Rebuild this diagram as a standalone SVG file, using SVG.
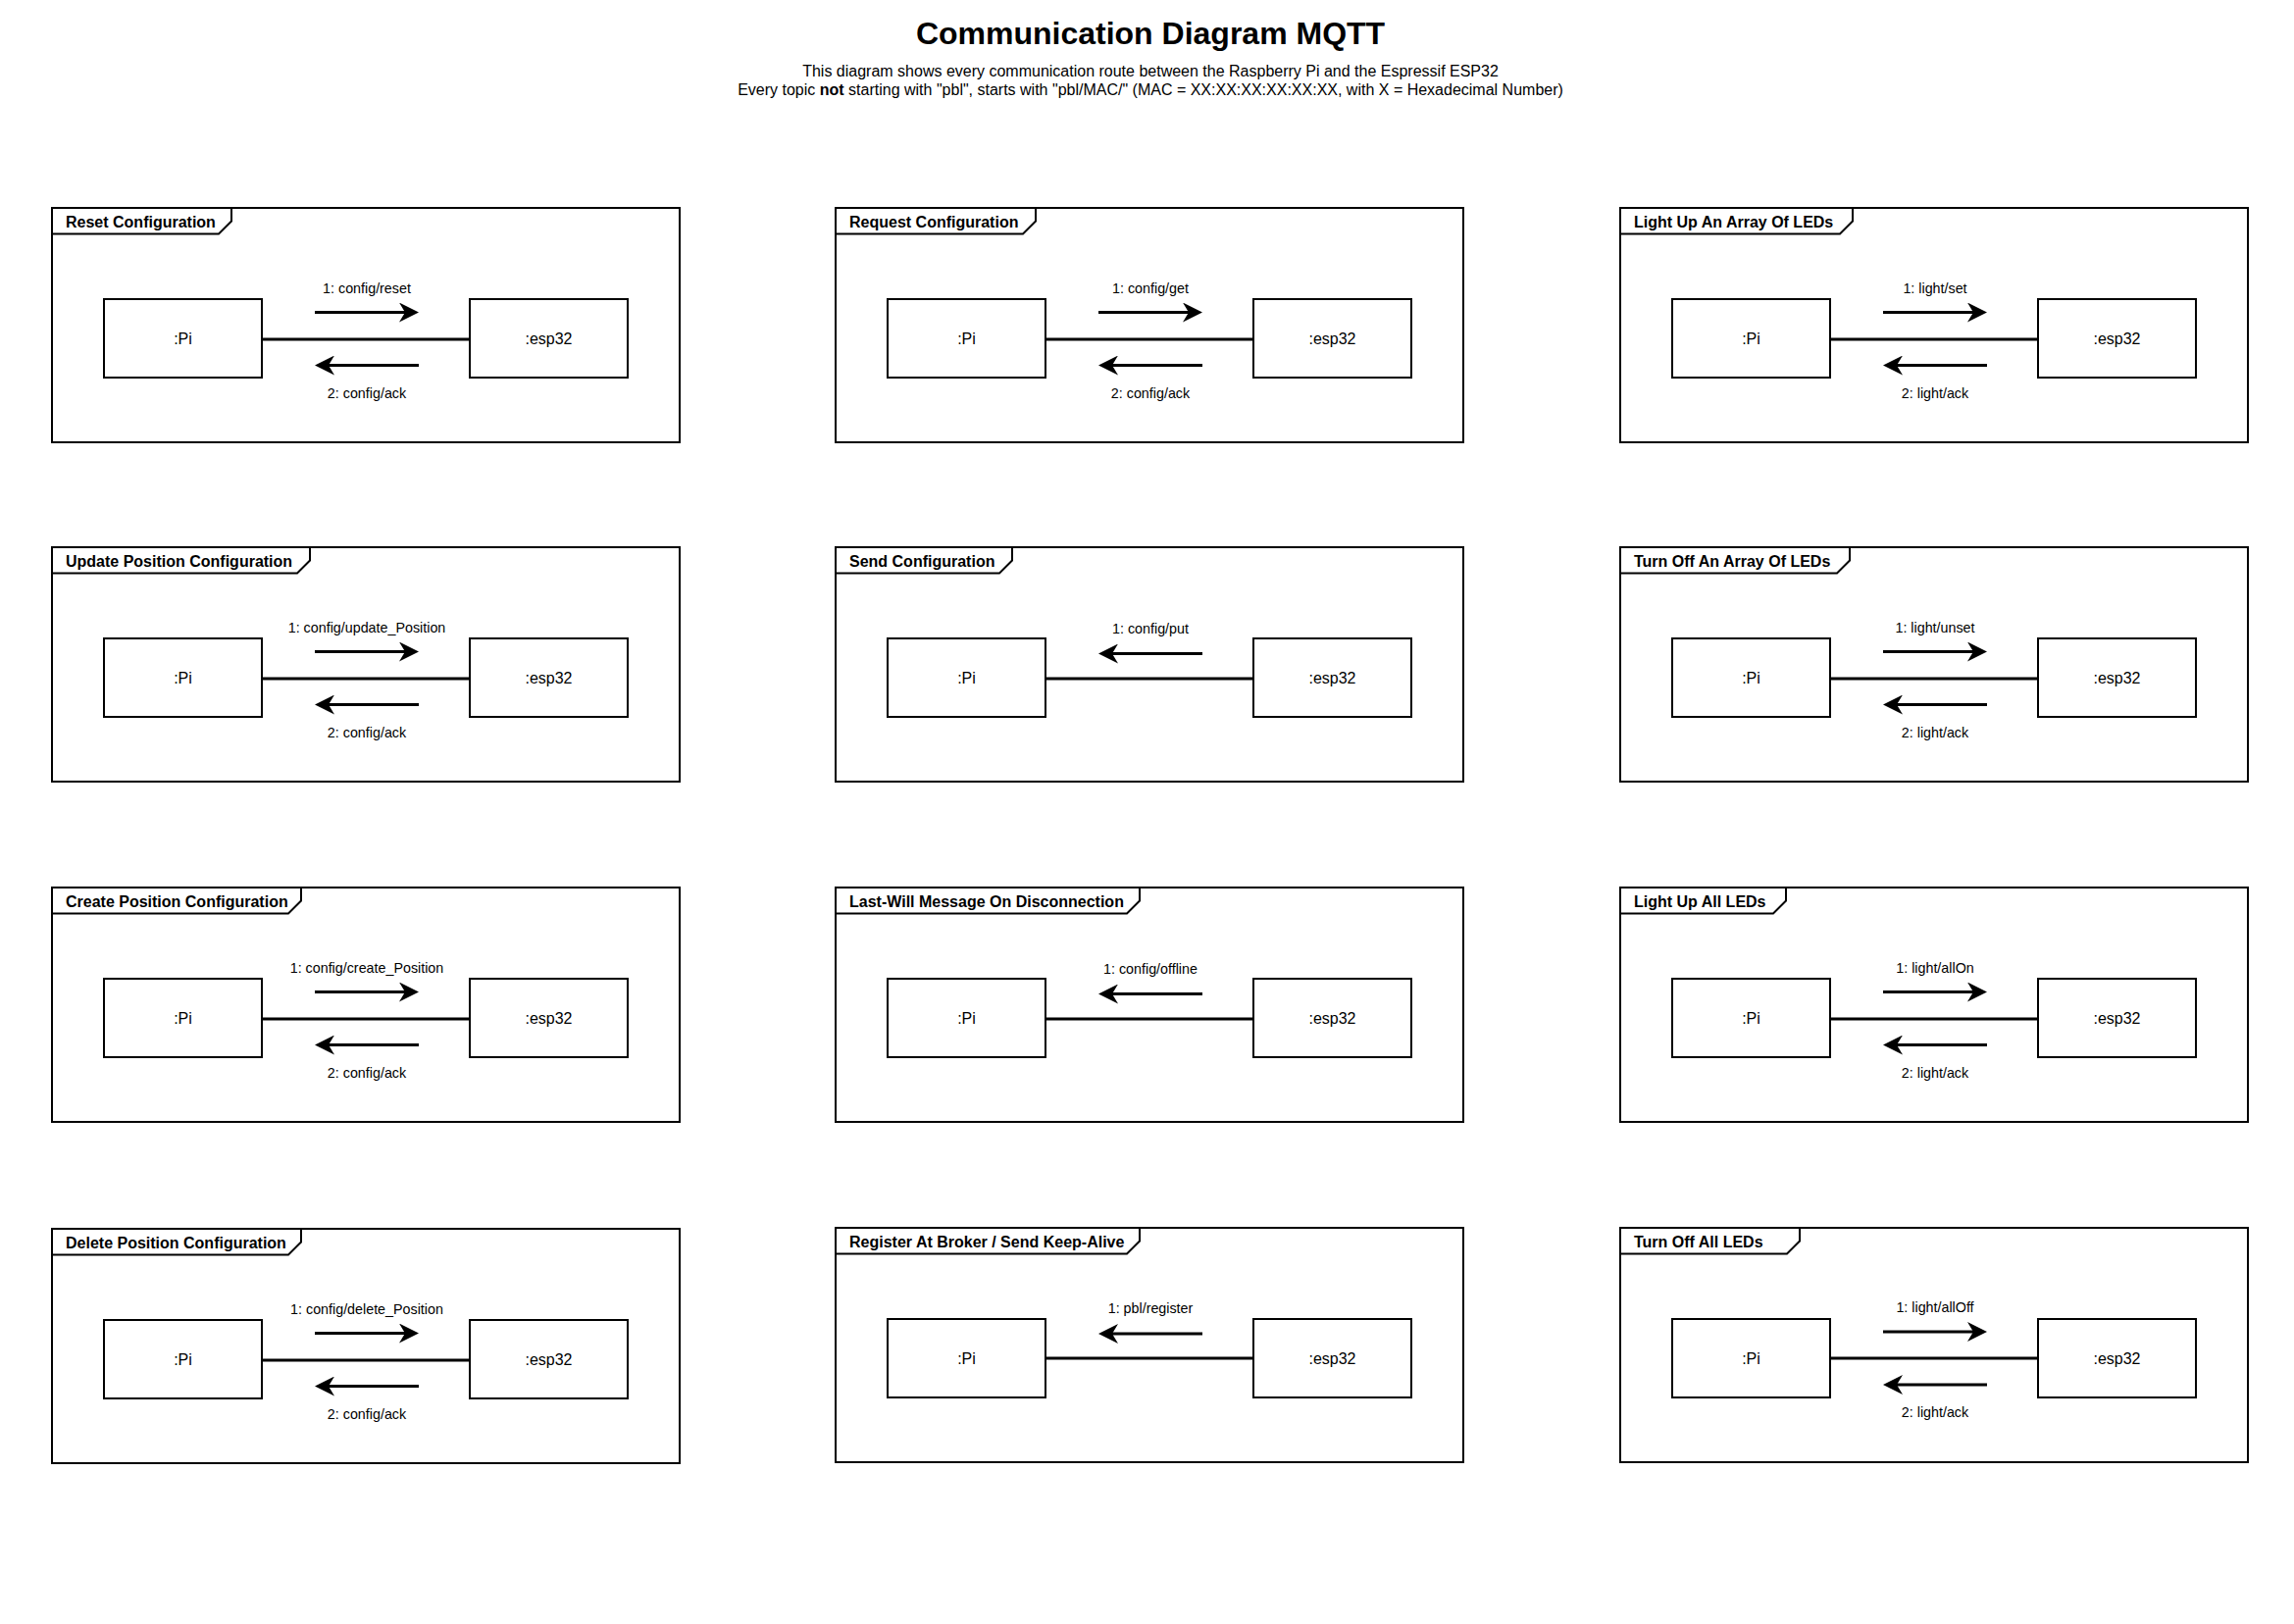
<svg xmlns="http://www.w3.org/2000/svg" width="2339" height="1656" viewBox="0 0 2339 1656">
<style>
text{font-family:"Liberation Sans",Arial,sans-serif;fill:#000}
.title{font-size:32px;font-weight:bold;text-anchor:middle}
.sub{font-size:16px;text-anchor:middle}
.flabel{font-size:16px;font-weight:bold}
.obj{font-size:16px;text-anchor:middle}
.msg{font-size:14.3px;text-anchor:middle}
.frame{fill:none;stroke:#000;stroke-width:2}
.tab{fill:#fff;stroke:#000;stroke-width:2}
.box{fill:#fff;stroke:#000;stroke-width:2}
.link{stroke:#000;stroke-width:3;fill:none}
.arrow{stroke:#000;stroke-width:3;fill:none;marker-end:url(#ah)}
</style>
<defs>
<marker id="ah" viewBox="0 0 20 20" markerWidth="20" markerHeight="20" refX="6" refY="10" orient="auto" markerUnits="userSpaceOnUse">
<path d="M0,0 L20,10 L0,20 L6,10 Z" fill="#000"/>
</marker>
</defs>
<rect width="2339" height="1656" fill="#fff"/>
<g id="header">
<text class="title" x="1173" y="45">Communication Diagram MQTT</text>
<text class="sub" x="1173" y="78">This diagram shows every communication route between the Raspberry Pi and the Espressif ESP32</text>
<text class="sub" x="1173" y="97">Every topic <tspan font-weight="bold">not</tspan> starting with "pbl", starts with "pbl/MAC/" (MAC = XX:XX:XX:XX:XX:XX, with X = Hexadecimal Number)</text>
</g>

<!-- Column A -->
<g id="frame-reset">
<rect class="frame" x="53" y="212" width="640" height="239"/>
<path class="tab" d="M53,238.5 H223 L236,225.5 V212 H53 Z"/>
<text class="flabel" x="67" y="232">Reset Configuration</text>
</g>
<g id="reset-pi"><rect class="box" x="106" y="305" width="161" height="80"/><text class="obj" x="186.5" y="351">:Pi</text></g>
<g id="reset-esp"><rect class="box" x="479" y="305" width="161" height="80"/><text class="obj" x="559.5" y="351">:esp32</text></g>

<g id="frame-update">
<rect class="frame" x="53" y="558" width="640" height="239"/>
<path class="tab" d="M53,584.5 H303 L316,571.5 V558 H53 Z"/>
<text class="flabel" x="67" y="578">Update Position Configuration</text>
</g>
<g id="update-pi"><rect class="box" x="106" y="651" width="161" height="80"/><text class="obj" x="186.5" y="697">:Pi</text></g>
<g id="update-esp"><rect class="box" x="479" y="651" width="161" height="80"/><text class="obj" x="559.5" y="697">:esp32</text></g>

<g id="frame-create">
<rect class="frame" x="53" y="905" width="640" height="239"/>
<path class="tab" d="M53,931.5 H294 L307,918.5 V905 H53 Z"/>
<text class="flabel" x="67" y="925">Create Position Configuration</text>
</g>
<g id="create-pi"><rect class="box" x="106" y="998" width="161" height="80"/><text class="obj" x="186.5" y="1044">:Pi</text></g>
<g id="create-esp"><rect class="box" x="479" y="998" width="161" height="80"/><text class="obj" x="559.5" y="1044">:esp32</text></g>

<g id="frame-delete">
<rect class="frame" x="53" y="1253" width="640" height="239"/>
<path class="tab" d="M53,1279.5 H294 L307,1266.5 V1253 H53 Z"/>
<text class="flabel" x="67" y="1273">Delete Position Configuration</text>
</g>
<g id="delete-pi"><rect class="box" x="106" y="1346" width="161" height="80"/><text class="obj" x="186.5" y="1392">:Pi</text></g>
<g id="delete-esp"><rect class="box" x="479" y="1346" width="161" height="80"/><text class="obj" x="559.5" y="1392">:esp32</text></g>

<!-- Column B -->
<g id="frame-request">
<rect class="frame" x="852" y="212" width="640" height="239"/>
<path class="tab" d="M852,238.5 H1043 L1056,225.5 V212 H852 Z"/>
<text class="flabel" x="866" y="232">Request Configuration</text>
</g>
<g id="request-pi"><rect class="box" x="905" y="305" width="161" height="80"/><text class="obj" x="985.5" y="351">:Pi</text></g>
<g id="request-esp"><rect class="box" x="1278" y="305" width="161" height="80"/><text class="obj" x="1358.5" y="351">:esp32</text></g>

<g id="frame-send">
<rect class="frame" x="852" y="558" width="640" height="239"/>
<path class="tab" d="M852,584.5 H1019 L1032,571.5 V558 H852 Z"/>
<text class="flabel" x="866" y="578">Send Configuration</text>
</g>
<g id="send-pi"><rect class="box" x="905" y="651" width="161" height="80"/><text class="obj" x="985.5" y="697">:Pi</text></g>
<g id="send-esp"><rect class="box" x="1278" y="651" width="161" height="80"/><text class="obj" x="1358.5" y="697">:esp32</text></g>

<g id="frame-lastwill">
<rect class="frame" x="852" y="905" width="640" height="239"/>
<path class="tab" d="M852,931.5 H1149 L1162,918.5 V905 H852 Z"/>
<text class="flabel" x="866" y="925">Last-Will Message On Disconnection</text>
</g>
<g id="lastwill-pi"><rect class="box" x="905" y="998" width="161" height="80"/><text class="obj" x="985.5" y="1044">:Pi</text></g>
<g id="lastwill-esp"><rect class="box" x="1278" y="998" width="161" height="80"/><text class="obj" x="1358.5" y="1044">:esp32</text></g>

<g id="frame-register">
<rect class="frame" x="852" y="1252" width="640" height="239"/>
<path class="tab" d="M852,1278.5 H1149 L1162,1265.5 V1252 H852 Z"/>
<text class="flabel" x="866" y="1272">Register At Broker / Send Keep-Alive</text>
</g>
<g id="register-pi"><rect class="box" x="905" y="1345" width="161" height="80"/><text class="obj" x="985.5" y="1391">:Pi</text></g>
<g id="register-esp"><rect class="box" x="1278" y="1345" width="161" height="80"/><text class="obj" x="1358.5" y="1391">:esp32</text></g>

<!-- Column C -->
<g id="frame-lightarray">
<rect class="frame" x="1652" y="212" width="640" height="239"/>
<path class="tab" d="M1652,238.5 H1876 L1889,225.5 V212 H1652 Z"/>
<text class="flabel" x="1666" y="232">Light Up An Array Of LEDs</text>
</g>
<g id="lightarray-pi"><rect class="box" x="1705" y="305" width="161" height="80"/><text class="obj" x="1785.5" y="351">:Pi</text></g>
<g id="lightarray-esp"><rect class="box" x="2078" y="305" width="161" height="80"/><text class="obj" x="2158.5" y="351">:esp32</text></g>

<g id="frame-offarray">
<rect class="frame" x="1652" y="558" width="640" height="239"/>
<path class="tab" d="M1652,584.5 H1873 L1886,571.5 V558 H1652 Z"/>
<text class="flabel" x="1666" y="578">Turn Off An Array Of LEDs</text>
</g>
<g id="offarray-pi"><rect class="box" x="1705" y="651" width="161" height="80"/><text class="obj" x="1785.5" y="697">:Pi</text></g>
<g id="offarray-esp"><rect class="box" x="2078" y="651" width="161" height="80"/><text class="obj" x="2158.5" y="697">:esp32</text></g>

<g id="frame-lightall">
<rect class="frame" x="1652" y="905" width="640" height="239"/>
<path class="tab" d="M1652,931.5 H1808 L1821,918.5 V905 H1652 Z"/>
<text class="flabel" x="1666" y="925">Light Up All LEDs</text>
</g>
<g id="lightall-pi"><rect class="box" x="1705" y="998" width="161" height="80"/><text class="obj" x="1785.5" y="1044">:Pi</text></g>
<g id="lightall-esp"><rect class="box" x="2078" y="998" width="161" height="80"/><text class="obj" x="2158.5" y="1044">:esp32</text></g>

<g id="frame-offall">
<rect class="frame" x="1652" y="1252" width="640" height="239"/>
<path class="tab" d="M1652,1278.5 H1822 L1835,1265.5 V1252 H1652 Z"/>
<text class="flabel" x="1666" y="1272">Turn Off All LEDs</text>
</g>
<g id="offall-pi"><rect class="box" x="1705" y="1345" width="161" height="80"/><text class="obj" x="1785.5" y="1391">:Pi</text></g>
<g id="offall-esp"><rect class="box" x="2078" y="1345" width="161" height="80"/><text class="obj" x="2158.5" y="1391">:esp32</text></g>

<g id="connectors">
<!-- Column A -->
<line class="link" x1="267" y1="346" x2="479" y2="346"/>
<line class="arrow" x1="321" y1="318.5" x2="413" y2="318.5"/>
<line class="arrow" x1="427" y1="372.5" x2="335" y2="372.5"/>
<text class="msg" x="374" y="298.5">1: config/reset</text>
<text class="msg" x="374" y="405.5">2: config/ack</text>

<line class="link" x1="267" y1="692" x2="479" y2="692"/>
<line class="arrow" x1="321" y1="664.5" x2="413" y2="664.5"/>
<line class="arrow" x1="427" y1="718.5" x2="335" y2="718.5"/>
<text class="msg" x="374" y="644.5">1: config/update_Position</text>
<text class="msg" x="374" y="751.5">2: config/ack</text>

<line class="link" x1="267" y1="1039" x2="479" y2="1039"/>
<line class="arrow" x1="321" y1="1011.5" x2="413" y2="1011.5"/>
<line class="arrow" x1="427" y1="1065.5" x2="335" y2="1065.5"/>
<text class="msg" x="374" y="991.5">1: config/create_Position</text>
<text class="msg" x="374" y="1098.5">2: config/ack</text>

<line class="link" x1="267" y1="1387" x2="479" y2="1387"/>
<line class="arrow" x1="321" y1="1359.5" x2="413" y2="1359.5"/>
<line class="arrow" x1="427" y1="1413.5" x2="335" y2="1413.5"/>
<text class="msg" x="374" y="1339.5">1: config/delete_Position</text>
<text class="msg" x="374" y="1446.5">2: config/ack</text>

<!-- Column B -->
<line class="link" x1="1066" y1="346" x2="1278" y2="346"/>
<line class="arrow" x1="1120" y1="318.5" x2="1212" y2="318.5"/>
<line class="arrow" x1="1226" y1="372.5" x2="1134" y2="372.5"/>
<text class="msg" x="1173" y="298.5">1: config/get</text>
<text class="msg" x="1173" y="405.5">2: config/ack</text>

<line class="link" x1="1066" y1="692" x2="1278" y2="692"/>
<line class="arrow" x1="1226" y1="666.5" x2="1134" y2="666.5"/>
<text class="msg" x="1173" y="645.5">1: config/put</text>

<line class="link" x1="1066" y1="1039" x2="1278" y2="1039"/>
<line class="arrow" x1="1226" y1="1013.5" x2="1134" y2="1013.5"/>
<text class="msg" x="1173" y="992.5">1: config/offline</text>

<line class="link" x1="1066" y1="1385" x2="1278" y2="1385"/>
<line class="arrow" x1="1226" y1="1360" x2="1134" y2="1360"/>
<text class="msg" x="1173" y="1339">1: pbl/register</text>

<!-- Column C -->
<line class="link" x1="1866" y1="346" x2="2078" y2="346"/>
<line class="arrow" x1="1920" y1="318.5" x2="2012" y2="318.5"/>
<line class="arrow" x1="2026" y1="372.5" x2="1934" y2="372.5"/>
<text class="msg" x="1973" y="298.5">1: light/set</text>
<text class="msg" x="1973" y="405.5">2: light/ack</text>

<line class="link" x1="1866" y1="692" x2="2078" y2="692"/>
<line class="arrow" x1="1920" y1="664.5" x2="2012" y2="664.5"/>
<line class="arrow" x1="2026" y1="718.5" x2="1934" y2="718.5"/>
<text class="msg" x="1973" y="644.5">1: light/unset</text>
<text class="msg" x="1973" y="751.5">2: light/ack</text>

<line class="link" x1="1866" y1="1039" x2="2078" y2="1039"/>
<line class="arrow" x1="1920" y1="1011.5" x2="2012" y2="1011.5"/>
<line class="arrow" x1="2026" y1="1065.5" x2="1934" y2="1065.5"/>
<text class="msg" x="1973" y="991.5">1: light/allOn</text>
<text class="msg" x="1973" y="1098.5">2: light/ack</text>

<line class="link" x1="1866" y1="1385" x2="2078" y2="1385"/>
<line class="arrow" x1="1920" y1="1358" x2="2012" y2="1358"/>
<line class="arrow" x1="2026" y1="1412" x2="1934" y2="1412"/>
<text class="msg" x="1973" y="1338">1: light/allOff</text>
<text class="msg" x="1973" y="1445">2: light/ack</text>
</g>
</svg>
